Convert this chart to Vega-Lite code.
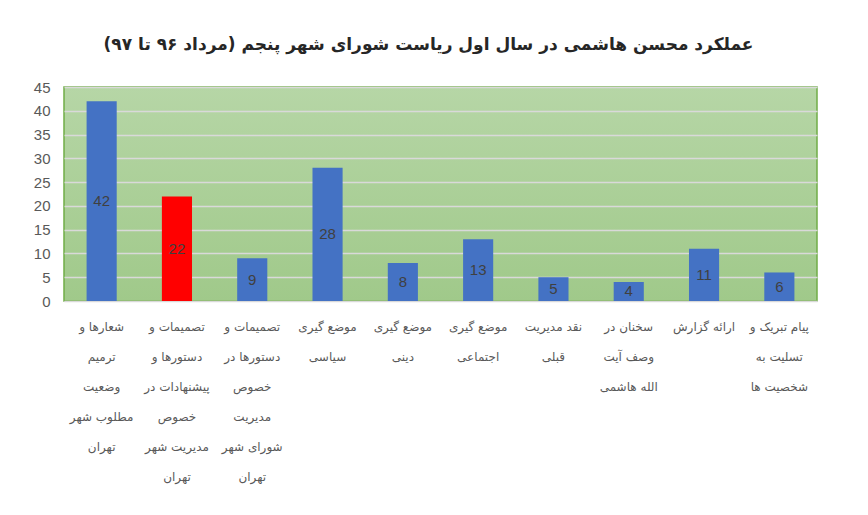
{
  "$schema": "https://vega.github.io/schema/vega-lite/v6.json",
  "autosize": {"type": "none"},
  "padding": {"left": 64, "top": 87, "right": 51, "bottom": 214},
  "width": 753,
  "height": 214,
  "background": "white",
  "title": {
    "text": "عملکرد محسن هاشمی در سال اول ریاست شورای شهر پنجم (مرداد ۹۶ تا ۹۷)",
    "font": "DejaVu Sans",
    "fontSize": 17,
    "fontWeight": "bold",
    "color": "#262626",
    "anchor": "middle",
    "offset": 26,
    "dx": -12
  },
  "config": {
    "view": {
      "stroke": "#70ad47",
      "strokeWidth": 1.5,
      "fill": {
        "gradient": "linear",
        "x1": 0, "y1": 0, "x2": 0, "y2": 1,
        "stops": [
          {"offset": 0, "color": "#b6d6a6"},
          {"offset": 1, "color": "#a0c98a"}
        ]
      }
    },
    "axis": {"labelFont": "DejaVu Sans", "labelColor": "#595959"},
    "axisY": {
      "title": null,
      "labelFont": "Liberation Sans",
      "labelFontSize": 15,
      "labelPadding": 14,
      "labelOverlap": false,
      "ticks": false,
      "domain": false,
      "gridColor": "#d9d9d9",
      "gridWidth": 1.5,
      "tickCount": 10
    }
  },
  "data": {
    "values": [
      {"cat": "شعارها و|ترمیم|وضعیت|مطلوب شهر|تهران", "value": 42, "hl": "n"},
      {"cat": "تصمیمات و|دستورها و|پیشنهادات در|خصوص|مدیریت شهر|تهران", "value": 22, "hl": "y"},
      {"cat": "تصمیمات و|دستورها در|خصوص|مدیریت|شورای شهر|تهران", "value": 9, "hl": "n"},
      {"cat": "موضع گیری|سیاسی", "value": 28, "hl": "n"},
      {"cat": "موضع گیری|دینی", "value": 8, "hl": "n"},
      {"cat": "موضع گیری|اجتماعی", "value": 13, "hl": "n"},
      {"cat": "نقد مدیریت|قبلی", "value": 5, "hl": "n"},
      {"cat": "سخنان در|وصف آیت|الله هاشمی", "value": 4, "hl": "n"},
      {"cat": "ارائه گزارش", "value": 11, "hl": "n"},
      {"cat": "پیام تبریک و|تسلیت به|شخصیت ها", "value": 6, "hl": "n"}
    ]
  },
  "encoding": {
    "x": {
      "field": "cat",
      "type": "nominal",
      "sort": null,
      "scale": {"paddingInner": 0.6, "paddingOuter": 0.3},
      "axis": {
        "title": null,
        "labelAngle": 0,
        "labelExpr": "split(datum.label, '|')",
        "labelFontSize": 12,
        "labelLineHeight": 30,
        "labelPadding": 20,
        "labelBaseline": "top",
        "labelLimit": 200,
        "labelOverlap": false,
        "ticks": false,
        "domainColor": "#d9d9d9"
      }
    }
  },
  "layer": [
    {
      "mark": {"type": "bar"},
      "encoding": {
        "y": {
          "field": "value",
          "type": "quantitative",
          "scale": {"domain": [0, 45]},
          "axis": {"values": [0, 5, 10, 15, 20, 25, 30, 35, 40, 45], "title": null}
        },
        "color": {
          "field": "hl",
          "type": "nominal",
          "scale": {"domain": ["n", "y"], "range": ["#4472c4", "#ff0000"]},
          "legend": null
        }
      }
    },
    {
      "transform": [{"calculate": "datum.value / 2", "as": "mid"}],
      "mark": {"type": "text", "font": "Liberation Sans", "fontSize": 15, "color": "#404040", "baseline": "middle"},
      "encoding": {
        "y": {
          "field": "mid",
          "type": "quantitative",
          "axis": {"values": [0, 5, 10, 15, 20, 25, 30, 35, 40, 45], "title": null}
        },
        "text": {"field": "value", "type": "quantitative"}
      }
    }
  ]
}
